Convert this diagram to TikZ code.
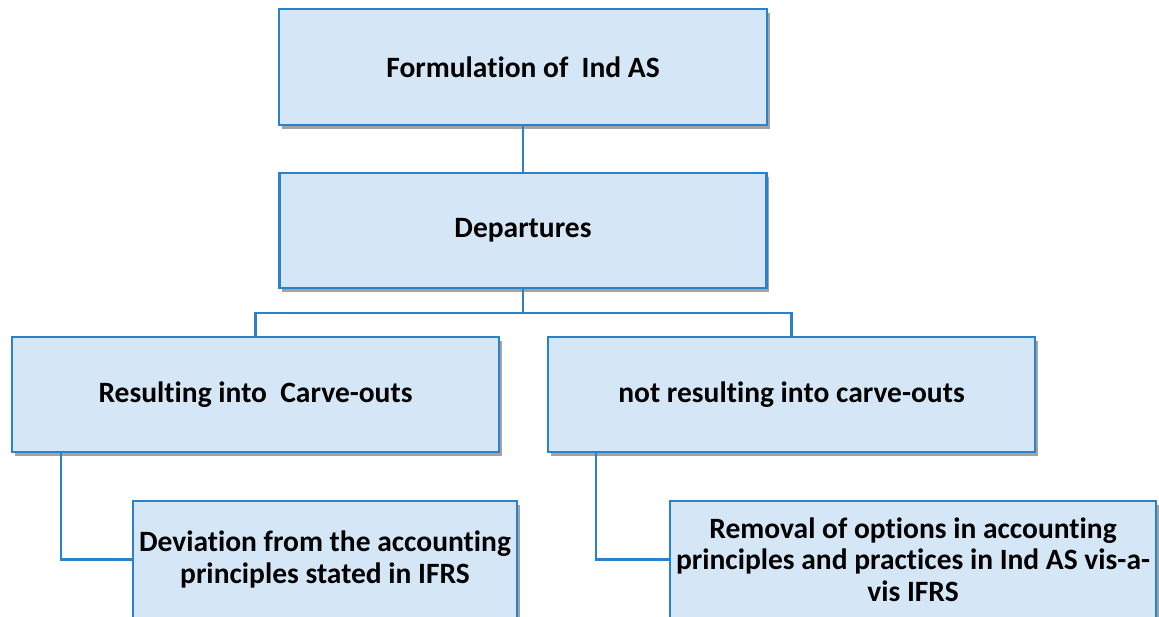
\documentclass[tikz,border=0pt]{standalone}
\usepackage{fontspec}
\setmainfont{Carlito}[RawFeature=-liga]
\usetikzlibrary{positioning,shadows}
\definecolor{boxfill}{RGB}{213,231,246}
\definecolor{boxline}{RGB}{42,130,204}

\begin{document}
\begin{tikzpicture}[x=1pt,y=-1pt,
	every node/.style={ font=\fontsize{29.5}{31.5}\selectfont\bfseries,
    					align=center,
                        inner sep=0pt,
                        outer sep=0pt
                        },
	level/.style= {draw=boxline,
    			  fill=boxfill,
                  line width=2.4pt,
                  minimum width=487pt,
                  minimum height=115pt,
                  drop shadow={shadow xshift=2.5pt, shadow yshift=-4pt, fill=black!60, opacity=.6}
    },
    link/.style= {draw=boxline, line width=2.4pt}
]
	\useasboundingbox (0,0) rectangle (1159,616);
	\node (form) [level, minimum width=488pt, minimum height=116pt] at (523,67) {Formulation of\ \ Ind AS};
    \node (dep) [level, below=48pt of form] {Departures};
    \node (carve) [level] at (255.5,394.5) {Resulting into\ \ Carve-outs};
    \node (nocarve) [level] at (791.5,394.5) {not resulting into carve-outs};
    \node (devi) [level, minimum width=384pt, minimum height=117pt] at (325,559.5)
    	{Deviation from the accounting\\ principles stated in IFRS};
    \node (removal) [level, minimum width=486pt, minimum height=117pt] at (913,559.5)
    	{Removal of options in accounting\\ principles and practices in Ind AS vis-a-\\ vis IFRS};
    \draw[link] (form) -- (dep);
    \draw[link] (dep.south) -- ++(0,25) coordinate (bus) -| (carve.north);
    \draw[link] (bus) -| (nocarve.north);
    \draw[link] ([xshift=49pt]carve.south west) |- (devi.west);
    \draw[link] ([xshift=48pt]nocarve.south west) |- (removal.west);
\end{tikzpicture}
\end{document}
